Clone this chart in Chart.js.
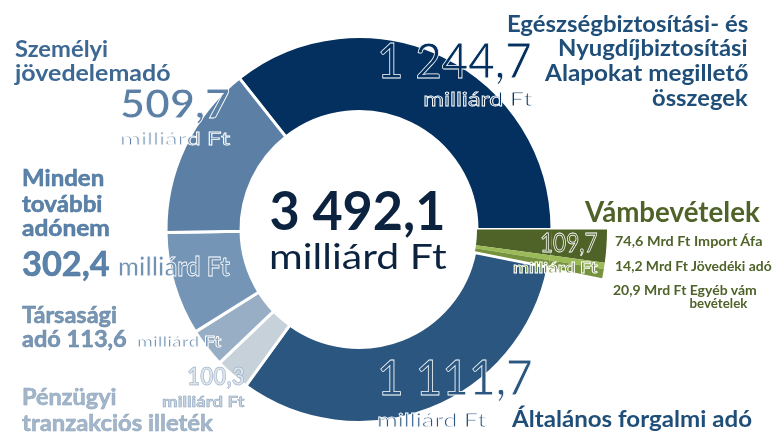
<!DOCTYPE html>
<html>
<head>
<meta charset="utf-8">
<script src="https://cdn.jsdelivr.net/npm/chart.js@4/dist/chart.umd.min.js"></script>
<style>
    body { margin: 0; background: #fff; }
    #wrap { position: relative; width: 775px; height: 432px; overflow: hidden; font-family: Lato, "Open Sans", sans-serif; }
    #chart { position: absolute; left: 0; top: 0; }
    .t { position: absolute; white-space: nowrap; line-height: 1; }
</style>
</head>
<body>
<div id="wrap"><canvas id="chart" width="775" height="432"></canvas></div>
<script>
// Slices, clockwise from the top-right one
const categories = [
    'Egészségbiztosítási- és Nyugdíjbiztosítási Alapokat megillető összegek',
    'Import Áfa',
    'Jövedéki adó',
    'Egyéb vám bevételek',
    'Általános forgalmi adó',
    'Pénzügyi tranzakciós illeték',
    'Társasági adó',
    'Minden további adónem',
    'Személyi jövedelemadó'
];
const values = [1244.7, 74.6, 14.2, 20.9, 1111.7, 100.3, 113.6, 302.4, 509.7];
const customsParts = [1, 2, 3]; // Vámbevételek, drawn as the longer slice
const unit = 'milliárd Ft';

const sliceColors = ['#03305E', '#4F6228', '#9BBB59', '#76923C', '#2A567F', '#C7D1D9', '#98AEC5', '#7495B6', '#5C80A5'];

function fmt(v) {
    const [i, d] = v.toFixed(1).split('.');
    return i.replace(/\B(?=(\d{3})+(?!\d))/g, '\u00a0') + ',' + d;
}

const total = values.reduce((a, b) => a + b, 0);
const customsTotal = customsParts.reduce((s, i) => s + values[i], 0);
const isCustoms = i => customsParts.includes(i);

// first slice ends exactly at 3 o'clock
const rotation = 90 - values[0] / total * 360;

new Chart(document.getElementById('chart'), {
    type: 'doughnut',
    data: {
        labels: categories,
        datasets: [
            {
                // outer ring: only the customs slices continue out here
                data: values,
                backgroundColor: values.map((v, i) => isCustoms(i) ? sliceColors[i] : 'rgba(0,0,0,0)'),
                borderWidth: 0,
                weight: 55
            },
            {
                data: values,
                backgroundColor: sliceColors,
                borderColor: '#fff',
                borderWidth: values.map((v, i) => isCustoms(i) ? 0 : 3),
                weight: 75
            }
        ]
    },
    options: {
        responsive: false,
        animation: false,
        rotation: rotation,
        radius: 248,
        cutout: '47.58%',
        layout: { padding: { top: 27, right: 57 } },
        plugins: {
            legend: { display: false },
            tooltip: { enabled: false }
        }
    }
});

// text: [text, x, baseline, size, width, align, weight, fill, stroke]
const texts = [
    ['Egészségbiztosítási- és', 748, 32, 23, 241, 'right', 700, '#1F4E79'],
    ['Nyugdíjbiztosítási', 748, 56, 23, 190, 'right', 700, '#1F4E79'],
    ['Alapokat megillető', 748, 81, 23, 203, 'right', 700, '#1F4E79'],
    ['összegek', 748, 106, 23, 96, 'right', 700, '#1F4E79'],
    [fmt(values[0]), 532, 78, 49, 155, 'right', 400, '#03305E', '#fff'],
    [unit, 533, 106, 19.5, 110, 'right', 400, '#03305E', '#fff'],
    [fmt(total), 357, 230, 53, 176, 'center', 700, '#0C2340'],
    [unit, 358, 269, 35, 178, 'center', 400, '#0C2340'],
    ['Vámbevételek', 585, 222, 28, 175, 'left', 700, '#4F6228'],
    [fmt(values[1]) + ' Mrd Ft Import Áfa', 615, 245.5, 14, 147, 'left', 700, '#4F6228'],
    [fmt(values[2]) + ' Mrd Ft Jövedéki adó', 615, 270.5, 14, 157, 'left', 700, '#4F6228'],
    [fmt(values[3]) + ' Mrd Ft Egyéb vám', 613, 295, 14, 144, 'left', 700, '#4F6228'],
    ['bevételek', 718, 308, 14, 58, 'center', 700, '#4F6228'],
    [fmt(customsTotal), 598, 252, 26.5, 58, 'right', 400, '#4F6228', '#fff'],
    [unit, 598, 273, 15, 85, 'right', 700, '#76923C', '#fff'],
    [fmt(values[4]), 377, 395, 49, 156, 'left', 400, '#2A567F', '#fff'],
    [unit, 377, 427, 20, 110, 'left', 400, '#2A567F', '#fff'],
    ['Általános forgalmi adó', 512, 427, 22, 240, 'left', 700, '#1F4E79'],
    ['Személyi', 15, 57, 23.5, 93, 'left', 700, '#3D6893'],
    ['jövedelemadó', 15, 81, 23.5, 155, 'left', 700, '#3D6893'],
    [fmt(values[8]), 120, 118, 40, 110, 'left', 700, '#5C80A5', '#fff'],
    [unit, 120, 145, 18, 110, 'left', 400, '#5C80A5', '#fff'],
    ['Minden', 22, 186, 22, 82, 'left', 700, '#5B82A9', '#4A739C'],
    ['további', 22, 212, 22, 80, 'left', 700, '#5B82A9', '#4A739C'],
    ['adónem', 22, 236, 22, 88, 'left', 700, '#5B82A9', '#4A739C'],
    [fmt(values[7]), 22, 276, 34, 88, 'left', 700, '#5B82A9', '#4A739C'],
    [unit, 118, 276, 27, 112, 'left', 700, '#7193B6', '#fff'],
    ['Társasági', 22, 323, 22, 95, 'left', 700, '#7896B6', '#65849F'],
    ['adó ' + fmt(values[6]), 22, 347, 22, 105, 'left', 700, '#7896B6', '#65849F'],
    [unit, 137, 347, 15, 85, 'left', 700, '#7896B6', '#fff'],
    [fmt(values[5]), 245, 385, 25, 58, 'right', 700, '#DCE4EC', '#8AA2BC'],
    [unit, 245, 407, 15, 83, 'right', 700, '#C9D5E1', '#8AA2BC'],
    ['Pénzügyi', 22, 405, 22, 95, 'left', 700, '#A3B6CA', '#8FA5BD'],
    ['tranzakciós illeték', 22, 431, 22, 191, 'left', 700, '#A3B6CA', '#8FA5BD']
];

const wrap = document.getElementById('wrap');
texts.forEach(([txt, x, base, size, width, align, weight, fill, stroke]) => {
    const el = document.createElement('div');
    el.className = 't';
    el.style.fontSize = size + 'px';
    el.style.fontWeight = weight;
    el.style.color = fill;
    if (stroke) el.style.webkitTextStroke = (stroke === '#fff' ? 0.8 : 0.5) + 'px ' + stroke;
    el.textContent = txt;
    const mark = document.createElement('span');
    mark.style.cssText = 'display:inline-block;width:0;height:0;';
    el.appendChild(mark);
    wrap.appendChild(el);

    const w = el.offsetWidth;
    const sx = width / w;
    let left = x;
    if (align === 'right') left = x - w;
    if (align === 'center') left = x - w / 2;
    el.style.left = left + 'px';
    el.style.top = (base - mark.offsetTop) + 'px';
    el.style.transformOrigin = align === 'right' ? 'right' : (align === 'center' ? 'center' : 'left');
    el.style.transform = 'scaleX(' + sx.toFixed(3) + ')';
});
</script>
</body>
</html>
